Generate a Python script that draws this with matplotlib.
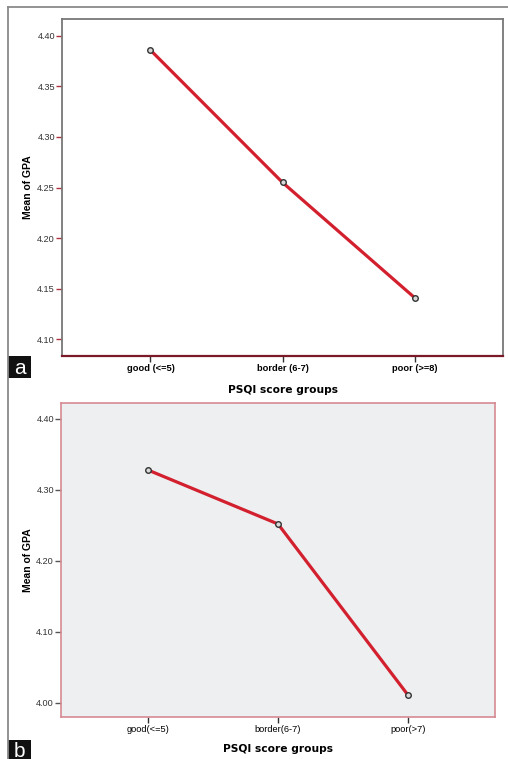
import matplotlib
matplotlib.use('Agg')
import matplotlib.pyplot as plt
from matplotlib.patches import Rectangle
from matplotlib.lines import Line2D

# ── Data ─────────────────────────────────────────────────────────────────────
GROUPS_A = ['good (<=5)', 'border (6-7)', 'poor (>=8)']
GPA_A = [4.386, 4.255, 4.141]
YTICKS_A = [4.10, 4.15, 4.20, 4.25, 4.30, 4.35, 4.40]

GROUPS_B = ['good(<=5)', 'border(6-7)', 'poor(>7)']
GPA_B = [4.328, 4.252, 4.011]
YTICKS_B = [4.00, 4.10, 4.20, 4.30, 4.40]

LINE_RED = '#D3202E'
W, H = 508, 759

fig = plt.figure(figsize=(W / 100, H / 100), dpi=100)
fig.patch.set_facecolor('white')


def px(x0, y0, x1, y1):
    # pixel box (top-left origin) -> figure fraction rect
    return [x0 / W, 1 - y1 / H, (x1 - x0) / W, (y1 - y0) / H]


def draw_panel(ax, groups, vals, yticks, ylim, bold_ticks):
    x = list(range(len(groups)))
    ax.plot(x, vals, color=LINE_RED, linewidth=2.3, zorder=3)
    ax.plot(x, vals, linestyle='none', marker='o', markersize=4,
            markerfacecolor='#D8D8D8', markeredgecolor='#333333',
            markeredgewidth=1.0, zorder=4)
    ax.set_xlim(-0.67, 2.67)
    ax.set_ylim(*ylim)
    ax.set_xticks(x)
    ax.set_xticklabels(groups, fontsize=6.7,
                       fontweight='bold' if bold_ticks else 'normal',
                       family='Liberation Sans')
    ax.set_yticks(yticks)
    ax.set_yticklabels([f'{v:.2f}' for v in yticks], fontsize=6.6,
                       family='Liberation Sans', color='#333333')
    ax.tick_params(axis='x', direction='out', length=4, width=1,
                   color='#333333', pad=2)
    ax.tick_params(axis='y', direction='out', length=4, width=1, pad=1)
    ax.set_xlabel('PSQI score groups', fontsize=7.7, fontweight='bold',
                  family='DejaVu Sans', labelpad=6)


# ── Panel a ──────────────────────────────────────────────────────────────────
ax1 = fig.add_axes(px(62, 19, 503, 356))
draw_panel(ax1, GROUPS_A, GPA_A, YTICKS_A, (4.0832, 4.4168), True)
ax1.set_facecolor('white')
for s in ['top', 'left', 'right']:
    ax1.spines[s].set_color('#777777')
    ax1.spines[s].set_linewidth(1.3)
ax1.spines['bottom'].set_color('#7A1A28')
ax1.spines['bottom'].set_linewidth(1.6)
ax1.tick_params(axis='y', color='#B0303E')
ax1.xaxis.set_label_coords(0.5, -0.085)

# ── Panel b ──────────────────────────────────────────────────────────────────
ax2 = fig.add_axes(px(61, 403, 495, 717))
draw_panel(ax2, GROUPS_B, GPA_B, YTICKS_B, (3.980, 4.4225), False)
ax2.set_facecolor('#EEEFF1')
for s in ax2.spines.values():
    s.set_color('#D58A92')
    s.set_linewidth(1.2)
ax2.tick_params(axis='y', color='#555555')
ax2.xaxis.set_label_coords(0.5, -0.085)

# y-axis titles
for top, bot in [(19, 356), (403, 717)]:
    fig.text(28 / W, 1 - (top + bot) / 2 / H, 'Mean of GPA', rotation=90,
             ha='center', va='center', fontsize=7.5, fontweight='bold',
             family='Liberation Sans')

# outer frame
fig.add_artist(Line2D([8 / W, 8 / W], [0, 1 - 7 / H], color='#8A8A8A',
                      linewidth=1.3, transform=fig.transFigure))
fig.add_artist(Line2D([8 / W, 1], [1 - 7 / H, 1 - 7 / H], color='#8A8A8A',
                      linewidth=1.3, transform=fig.transFigure))

# panel letters
for letter, y0, y1 in [('a', 356, 378), ('b', 740, 759)]:
    r = px(8, y0, 31, y1)
    fig.add_artist(Rectangle((r[0], r[1]), r[2], r[3], facecolor='#111111',
                             edgecolor='none', transform=fig.transFigure))
    fig.text(r[0] + r[2] / 2, r[1] + r[3] / 2 - 0.002, letter, color='white',
             ha='center', va='center', fontsize=15, family='Liberation Sans')

fig.savefig('out.png', dpi=100, facecolor='white')
